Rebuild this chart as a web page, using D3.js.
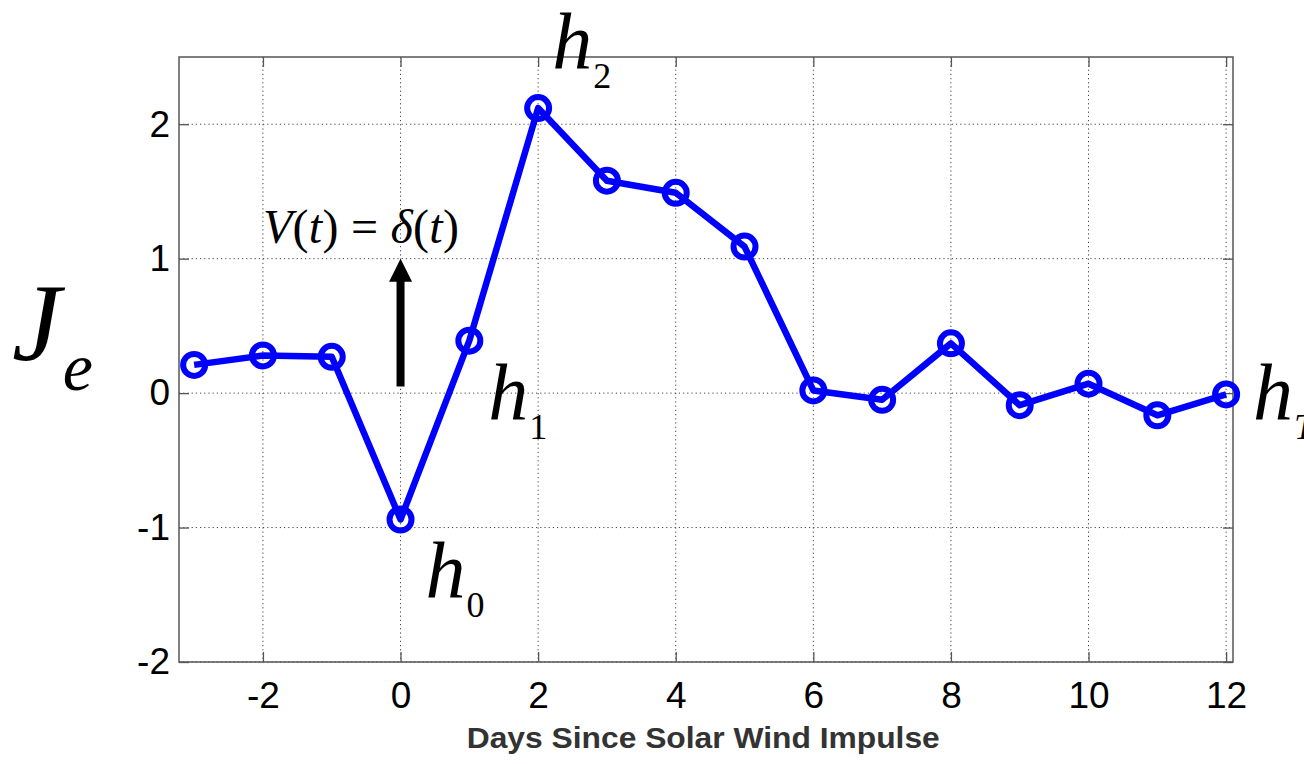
<!DOCTYPE html>
<html>
<head>
<meta charset="utf-8">
<script src="https://cdn.jsdelivr.net/npm/d3@7"></script>
<style>
  body { margin: 0; background: #fff; }
  svg { display: block; }
</style>
</head>
<body>
<div id="chart"></div>
<script>
// days since the impulse and the response J_e
const days = [-3, -2, -1, 0, 1, 2, 3, 4, 5, 6, 7, 8, 9, 10, 11, 12];
const je = [0.21, 0.28, 0.27, -0.94, 0.39, 2.12, 1.58, 1.49, 1.09, 0.02, -0.05, 0.37, -0.09, 0.07, -0.165, -0.01];
const xTicks = [-2, 0, 2, 4, 6, 8, 10, 12];
const yTicks = [-2, -1, 0, 1, 2];

// h labels: day, value they sit next to, subscript
const hLabels = [
    {day: 0, value: -1.52, sub: "0"},
    {day: 1, value: -0.19, sub: "1"},
    {day: 2, value: 2.42, sub: "2"},
    {day: 12, value: -0.19, sub: "T"}
];

const W = 1304, H = 764;
const margin = {top: 57, right: 71, bottom: 102, left: 179};
const width = W - margin.left - margin.right;
const height = H - margin.top - margin.bottom;

const svg = d3.select("#chart").append("svg")
    .attr("width", W)
    .attr("height", H);

const g = svg.append("g")
    .attr("transform", `translate(${margin.left},${margin.top})`);

const x = d3.scaleLinear().domain([-3.22, 12.1]).range([0, width]);
const y = d3.scaleLinear().domain([-2, 2.5]).range([height, 0]);

// dotted grid
g.append("g").selectAll("line")
    .data(xTicks)
    .enter().append("line")
    .attr("x1", d => x(d)).attr("x2", d => x(d))
    .attr("y1", 0).attr("y2", height)
    .attr("stroke", "#444").attr("stroke-width", 1)
    .attr("stroke-dasharray", "1.2,3");

g.append("g").selectAll("line")
    .data(yTicks)
    .enter().append("line")
    .attr("x1", 0).attr("x2", width)
    .attr("y1", d => y(d)).attr("y2", d => y(d))
    .attr("stroke", "#444").attr("stroke-width", 1)
    .attr("stroke-dasharray", "1.2,3");

// axes, ticks pointing inward, matlab style
const tickLen = 10;
const axisFont = "'Liberation Sans', Arial, sans-serif";

const xAxis = g.append("g")
    .attr("transform", `translate(0,${height})`)
    .call(d3.axisBottom(x).tickValues(xTicks).tickSizeInner(-tickLen).tickSizeOuter(0).tickPadding(20).tickFormat(d3.format("d")));

const yAxis = g.append("g")
    .call(d3.axisLeft(y).tickValues(yTicks).tickSizeInner(-tickLen).tickSizeOuter(0).tickPadding(20).tickFormat(d3.format("d")));

g.append("g")
    .call(d3.axisTop(x).tickValues(xTicks).tickSizeInner(-tickLen).tickSizeOuter(0).tickFormat(""));
g.append("g")
    .attr("transform", `translate(${width},0)`)
    .call(d3.axisRight(y).tickValues(yTicks).tickSizeInner(-tickLen).tickSizeOuter(0).tickFormat(""));

g.selectAll(".domain").remove();
g.selectAll(".tick line").attr("stroke", "#555").attr("stroke-width", 1.3);
[xAxis, yAxis].forEach(a => a.selectAll("text")
    .attr("font-family", axisFont)
    .attr("font-size", 37)
    .attr("fill", "#000")
    .text(d => d < 0 ? "-" + Math.abs(d) : d));
yAxis.selectAll("text").attr("dx", 11);

g.append("rect")
    .attr("width", width).attr("height", height)
    .attr("fill", "none").attr("stroke", "#555").attr("stroke-width", 1.5);

// impulse arrow at day 0
const arrowX = x(0);
g.append("line")
    .attr("x1", arrowX).attr("x2", arrowX)
    .attr("y1", y(0.05)).attr("y2", y(1) + 20)
    .attr("stroke", "#000").attr("stroke-width", 8);
g.append("path")
    .attr("d", `M${arrowX - 11.5},${y(1) + 23} L${arrowX},${y(1)} L${arrowX + 11.5},${y(1) + 23} Z`)
    .attr("fill", "#000");

const serif = "'Liberation Serif', 'Times New Roman', serif";
const vt = g.append("text")
    .attr("x", x(-2))
    .attr("y", y(1.12))
    .attr("font-family", serif)
    .attr("font-size", 48)
    .attr("textLength", 196)
    .attr("lengthAdjust", "spacing");
vt.append("tspan").attr("font-style", "italic").text("V");
vt.append("tspan").text("(");
vt.append("tspan").attr("font-style", "italic").text("t");
vt.append("tspan").text(") = ");
vt.append("tspan").attr("font-style", "italic").text("δ");
vt.append("tspan").text("(");
vt.append("tspan").attr("font-style", "italic").text("t");
vt.append("tspan").text(")");

// data line and circles
const line = d3.line().x((d, i) => x(days[i])).y(d => y(d));
g.append("path")
    .datum(je)
    .attr("fill", "none")
    .attr("stroke", "#0000ff")
    .attr("stroke-width", 6.5)
    .attr("stroke-linejoin", "round")
    .attr("d", line);

g.append("g").selectAll("circle")
    .data(je)
    .enter().append("circle")
    .attr("cx", (d, i) => x(days[i]))
    .attr("cy", d => y(d))
    .attr("r", 11)
    .attr("fill", "none")
    .attr("stroke", "#0000ff")
    .attr("stroke-width", 6);

// h labels
hLabels.forEach(h => {
    const t = g.append("text")
        .attr("x", x(h.day) + (h.day === 12 ? 27 : h.day === 0 ? 25 : h.day === 1 ? 19 : 14))
        .attr("y", y(h.value))
        .attr("font-family", serif)
        .attr("font-size", 80)
        .attr("font-style", "italic");
    t.append("tspan").text("h");
    t.append("tspan")
        .attr("font-size", 36)
        .attr("dx", 1)
        .attr("dy", 20)
        .attr("font-style", h.sub === "T" ? "italic" : "normal")
        .text(h.sub);
});

// y label J_e
const jl = svg.append("text")
    .attr("x", 12)
    .attr("y", 360)
    .attr("font-family", serif)
    .attr("font-style", "italic")
    .attr("font-size", 110);
jl.append("tspan").text("J");
jl.append("tspan").attr("font-size", 68).attr("dx", 2).attr("dy", 30).text("e");

// x label
svg.append("text")
    .attr("x", margin.left + x(4.4))
    .attr("y", 748)
    .attr("text-anchor", "middle")
    .attr("font-family", axisFont)
    .attr("font-weight", "bold")
    .attr("font-size", 30)
    .attr("textLength", 473)
    .attr("lengthAdjust", "spacingAndGlyphs")
    .attr("fill", "#333")
    .text("Days Since Solar Wind Impulse");
</script>
</body>
</html>
